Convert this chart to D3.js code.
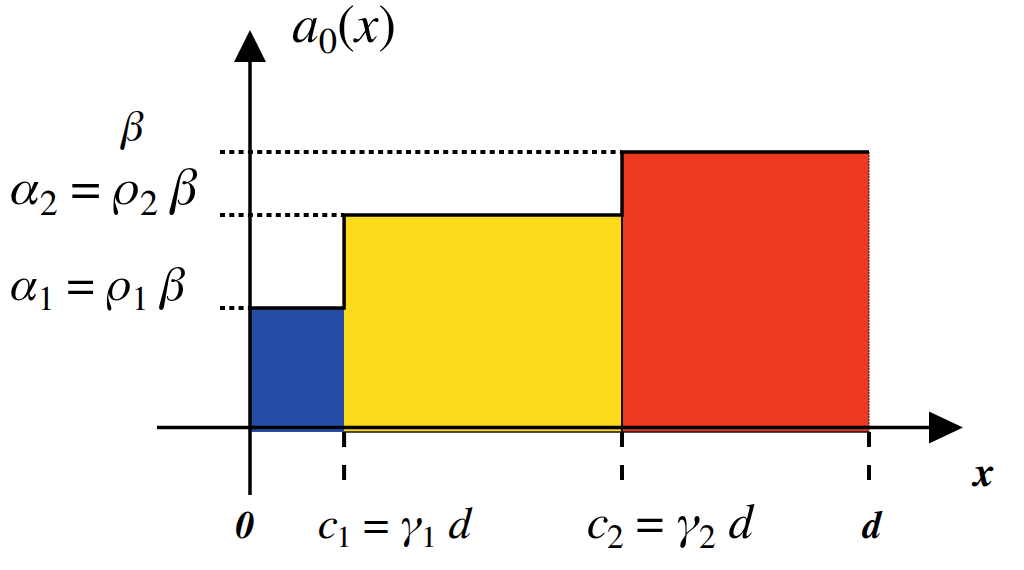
<!DOCTYPE html>
<html><head><meta charset="utf-8">
<script src="https://cdn.jsdelivr.net/npm/d3@7"></script>
</head><body style="margin:0"><svg id="c" width="1024" height="570" style="position:absolute;left:0;top:0"></svg>
<script>
// breakpoints along x (in units of d) and heights (in units of beta)
const breaks = [0, 0.152, 0.601, 1];
const levels = [0.443, 0.775, 1];
const colors = ["#264ca6", "#fbda1b", "#ec3a22"];
const S = "\u00a0";
const levelLabels = [
  [{t:"α",i:1},{t:"1",s:1},{t:S+"="+S},{t:"ρ",i:1},{t:"1",s:1},{t:S+"β",i:1}],
  [{t:"α",i:1},{t:"2",s:1},{t:S+"="+S},{t:"ρ",i:1},{t:"2",s:1},{t:S+"β",i:1}],
  [{t:"β",i:1}]
];
const breakLabels = [
  [{t:"0",b:1}],
  [{t:"c",i:1},{t:"1",s:1},{t:S+"="+S},{t:"γ",i:1},{t:"1",s:1},{t:S+"d",i:1}],
  [{t:"c",i:1},{t:"2",s:1},{t:S+"="+S},{t:"γ",i:1},{t:"2",s:1},{t:S+"d",i:1}],
  [{t:"d",b:1}]
];
const yTitle = [{t:"a",i:1},{t:"0",s:1},{t:"("},{t:"x",i:1},{t:")"}];
const xTitle = [{t:"x",b:1}];

const svg = d3.select("#c");
const x = d3.scaleLinear().domain([0, 1]).range([250, 869]);
const y = d3.scaleLinear().domain([0, 1]).range([432, 152]);

// pick a serif family that really renders (compare widths against sans fallbacks)
function measure(fam, style, weight) {
  const t = svg.append("text").attr("font-family", fam).attr("font-size", 40)
    .attr("font-style", style).attr("font-weight", weight).text("Hamburgefonstiv()=");
  const w = t.node().getComputedTextLength(); t.remove(); return w;
}
function pick(style, weight) {
  const sans = ["zzNoSuchFont", "Open Sans", "Noto Sans", "DejaVu Sans", "Liberation Sans", "Roboto", "Lato", "Inter"]
    .map(f => measure(f, style, weight));
  const cands = ["Liberation Serif", "Times New Roman", "Tinos", "FreeSerif", "Noto Serif", "DejaVu Serif"];
  for (const c of cands) {
    const w = measure(c, style, weight);
    if (sans.every(s => Math.abs(s - w) > 0.5)) return c;
  }
  return "serif";
}
const fReg = pick("normal", "normal");
const fIt = pick("italic", "normal");
const fBI = pick("italic", "bold");
const realItalic = fIt === "Liberation Serif" || fIt === "Times New Roman" || fIt === "Tinos" || fIt === "FreeSerif";

// bars
const segs = levels.map((v, i) => ({x0: breaks[i], x1: breaks[i+1], v, c: colors[i]}));
svg.selectAll("rect.bar").data(segs).join("rect")
  .attr("x", d => x(d.x0)).attr("width", d => x(d.x1) - x(d.x0))
  .attr("y", d => y(d.v)).attr("height", d => y(0) - y(d.v))
  .attr("fill", d => d.c);

// thin bottom and separators
svg.append("line").attr("x1", x(breaks[1])).attr("x2", x(1)).attr("y1", y(0)).attr("y2", y(0))
  .attr("stroke", "#111").attr("stroke-width", 1.5);
svg.append("line").attr("x1", x(breaks[2])).attr("x2", x(breaks[2])).attr("y1", y(levels[1])).attr("y2", y(0))
  .attr("stroke", "#111").attr("stroke-width", 2);
svg.append("line").attr("x1", x(1)).attr("x2", x(1)).attr("y1", y(levels[2])).attr("y2", y(0))
  .attr("stroke", "#222").attr("stroke-width", 1).attr("stroke-dasharray", "2,1");

// step outline
const pts = [];
segs.forEach(d => { pts.push([d.x0, d.v]); pts.push([d.x1, d.v]); });
svg.append("path").attr("d", d3.line().x(d => x(d[0])).y(d => y(d[1]))(pts))
  .attr("fill", "none").attr("stroke", "#000").attr("stroke-width", 3.5);

// dotted guides
levels.forEach((v, i) => {
  svg.append("line").attr("x1", 220).attr("x2", x(breaks[i])).attr("y1", y(v)).attr("y2", y(v))
    .attr("stroke", "#000").attr("stroke-width", 4).attr("stroke-dasharray", "5,4.3");
});

// axes
const axisY = y(0) - 4.5;
svg.append("line").attr("x1", 157).attr("x2", 935).attr("y1", axisY).attr("y2", axisY)
  .attr("stroke", "#000").attr("stroke-width", 3.5);
svg.append("path").attr("d", `M963,${axisY} L929,${axisY-16} L929,${axisY+16} Z`).attr("fill", "#000");
svg.append("line").attr("x1", x(0)).attr("x2", x(0)).attr("y1", 495).attr("y2", 58)
  .attr("stroke", "#000").attr("stroke-width", 3.5);
svg.append("path").attr("d", `M${x(0)},30 L${x(0)-16},62 L${x(0)+16},62 Z`).attr("fill", "#000");

// dashed ticks
breaks.slice(1).forEach(b => {
  svg.append("line").attr("x1", x(b)).attr("x2", x(b)).attr("y1", y(0)).attr("y2", 486)
    .attr("stroke", "#000").attr("stroke-width", 4).attr("stroke-dasharray", "15,18");
});

function label(parts, o) {
  const g = svg.append("g");
  let cx = 0;
  parts.forEach(p => {
    const fs = p.s ? o.size * 0.68 : o.size;
    const dy = p.s ? o.size * 0.2 : 0;
    const t = g.append("text").attr("font-size", fs).attr("fill", "#000").text(p.t);
    let tr = `translate(${cx},${dy})`;
    if (p.b) t.attr("font-family", fBI).attr("font-weight", "bold").attr("font-style", "italic");
    else if (p.i && realItalic) t.attr("font-family", fIt).attr("font-style", "italic");
    else if (p.i) { t.attr("font-family", fReg); tr += " skewX(-14)"; }
    else t.attr("font-family", fReg);
    t.attr("transform", tr);
    cx += t.node().getComputedTextLength();
  });
  const k = o.w ? o.w / cx : 1;
  const x0 = o.anchor === "middle" ? o.x - cx * k / 2 : o.x;
  g.attr("transform", `translate(${x0},${o.y}) scale(${k})`);
}

// level labels
label(levelLabels[0], {x: 10, y: 300, size: 44, w: 176});
label(levelLabels[1], {x: 10, y: 204, size: 44, w: 188});
label(levelLabels[2], {x: 133, y: 141, size: 44, anchor: "middle"});

// break labels
label(breakLabels[0], {x: 245, y: 538, size: 38, anchor: "middle"});
label(breakLabels[1], {x: 318, y: 538, size: 46, w: 153});
label(breakLabels[2], {x: 587, y: 538, size: 46, w: 166});
label(breakLabels[3], {x: 871, y: 538, size: 38, anchor: "middle"});

// axis titles
label(yTitle, {x: 292, y: 42, size: 42, w: 104});
label(xTitle, {x: 983, y: 486, size: 42, anchor: "middle"});
</script></body></html>
